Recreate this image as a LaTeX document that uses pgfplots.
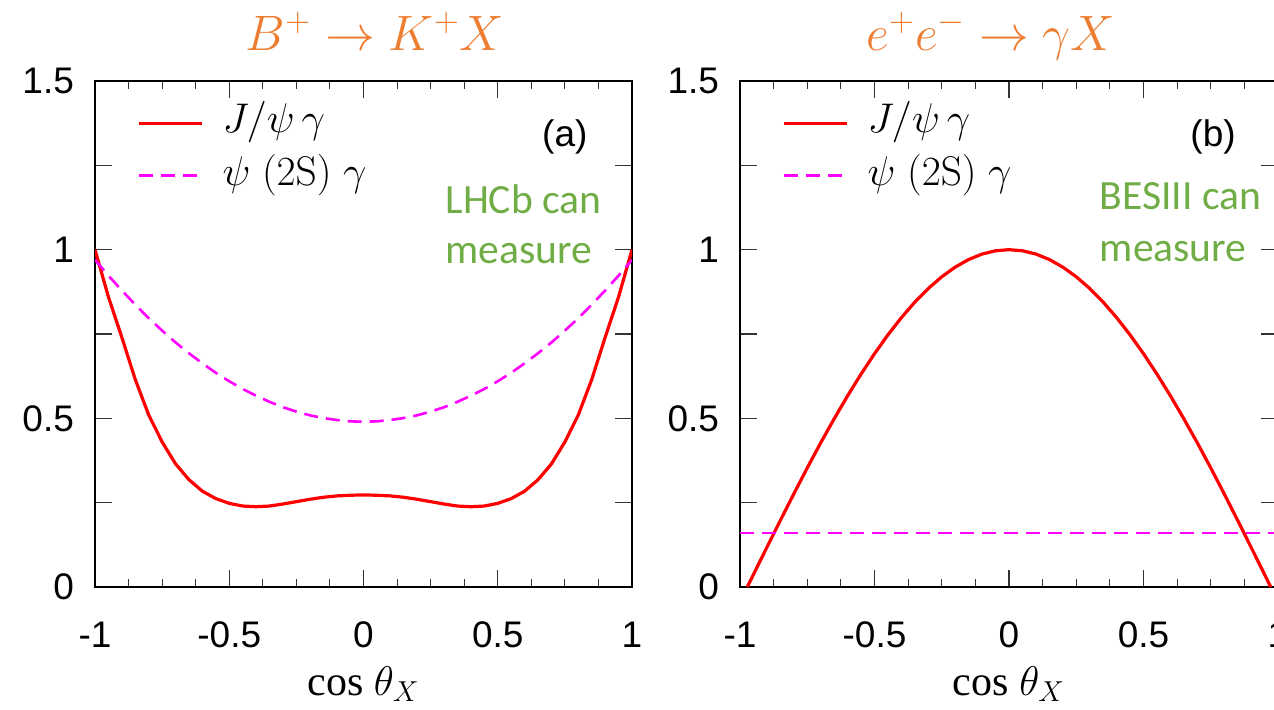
\documentclass[border=0pt]{standalone}
\usepackage[no-math]{fontspec}
\setmainfont{Liberation Sans}
\newfontfamily\carlito{Carlito}
\newfontfamily\tms{Liberation Serif}
\usepackage{pgfplots}
\pgfplotsset{compat=1.18}
\definecolor{ttlorange}{HTML}{ED7D31}
\definecolor{lhcgreen}{HTML}{70AD47}
\definecolor{cmag}{HTML}{FF00FF}
\definecolor{cred}{HTML}{FF0000}
\newcommand\ticksize{\fontsize{18.5}{22}\selectfont}
\newcommand\legsize{\fontsize{19.5}{22}\selectfont}
\newcommand\greensize{\fontsize{20.8}{24}\selectfont}
\newcommand\titlesize{\fontsize{25}{30}\selectfont}
\newcommand\xlabsize{\fontsize{21}{24}\selectfont}

\pgfplotstableread{
x y
-1 1.0
-0.95 0.86
-0.9 0.74
-0.85 0.615
-0.8 0.51
-0.75 0.43
-0.7 0.365
-0.65 0.318
-0.6 0.284
-0.55 0.262
-0.5 0.248
-0.45 0.240
-0.4 0.238
-0.35 0.240
-0.3 0.246
-0.25 0.253
-0.2 0.260
-0.15 0.266
-0.1 0.270
-0.05 0.272
0 0.273
0.05 0.272
0.1 0.270
0.15 0.266
0.2 0.260
0.25 0.253
0.3 0.246
0.35 0.240
0.4 0.238
0.45 0.240
0.5 0.248
0.55 0.262
0.6 0.284
0.65 0.318
0.7 0.365
0.75 0.43
0.8 0.51
0.85 0.615
0.9 0.74
0.95 0.86
1 1.0
}\leftJpsi

\pgfplotstableread{
x y
-1 0.97
-0.95 0.923
-0.9 0.879
-0.85 0.837
-0.8 0.797
-0.75 0.76
-0.7 0.725
-0.65 0.693
-0.6 0.663
-0.55 0.635
-0.5 0.61
-0.45 0.587
-0.4 0.567
-0.35 0.549
-0.3 0.533
-0.25 0.52
-0.2 0.509
-0.15 0.501
-0.1 0.495
-0.05 0.491
0 0.49
0.05 0.491
0.1 0.495
0.15 0.501
0.2 0.509
0.25 0.52
0.3 0.533
0.35 0.549
0.4 0.567
0.45 0.587
0.5 0.61
0.55 0.635
0.6 0.663
0.65 0.693
0.7 0.725
0.75 0.76
0.8 0.797
0.85 0.837
0.9 0.879
0.95 0.923
1 0.97
}\leftPsi

\pgfplotstableread{
x y
-0.973 0
-0.95 0.0372
-0.9 0.1177
-0.85 0.1975
-0.8 0.2761
-0.75 0.3531
-0.7 0.4274
-0.65 0.4986
-0.6 0.5668
-0.55 0.6312
-0.5 0.6916
-0.45 0.7475
-0.4 0.7986
-0.35 0.8446
-0.3 0.885
-0.25 0.9196
-0.2 0.9483
-0.15 0.9708
-0.1 0.987
-0.05 0.9967
0 1.0
0.05 0.9967
0.1 0.987
0.15 0.9708
0.2 0.9483
0.25 0.9196
0.3 0.885
0.35 0.8446
0.4 0.7986
0.45 0.7475
0.5 0.6916
0.55 0.6312
0.6 0.5668
0.65 0.4986
0.7 0.4274
0.75 0.3531
0.8 0.2761
0.85 0.1975
0.9 0.1177
0.95 0.0372
0.973 0
}\rightJpsi

\pgfplotstableread{
x y
-1 0.16
1 0.16
}\rightPsi

\pgfplotsset{
  panel/.style={
    scale only axis, width=268.5pt, height=253pt, anchor=south west,
    xmin=-1, xmax=1, ymin=0, ymax=1.5,
    xtick={-1,-0.5,0,0.5,1}, xticklabels={-1,-0.5,0,0.5,1},
    minor x tick num=3,
    ytick={0,0.25,0.5,0.75,1,1.25,1.5},
    yticklabels={0,,0.5,,1,,1.5},
    tick align=inside, tick pos=both,
    major tick length=8.3pt, minor tick length=4pt,
    axis line style={line width=0.9pt},
    tick style={black!80, line width=0.55pt},
    tick label style={font=\ticksize},
    xticklabel style={yshift=-13.8pt},
    yticklabel style={xshift=-7pt},
    xlabel={cos $\theta_X$},
    xlabel style={at={(axis description cs:0.5,0)}, anchor=base, yshift=-54pt, font=\tms\xlabsize},
    title style={font=\titlesize, text=ttlorange, anchor=base, yshift=9.5pt},
    legend style={draw=none, fill=none, at={(axis cs:-0.845,1.44)}, anchor=north west,
      font=\legsize, row sep=4.7pt, inner sep=0pt, /tikz/column sep=8.5pt,
      nodes={inner sep=1pt, text height=14.5pt, text depth=5pt}},
    legend cell align=left,
    legend image code/.code={\draw[##1] (0pt,0pt) -- (31.7pt,0pt);},
    jline/.style={cred, line width=1.6pt},
    pline/.style={cmag, line width=1.3pt, dash pattern=on 7pt off 4pt},
  }
}

\begin{document}
\begin{tikzpicture}
\begin{axis}[panel, at={(47.5pt,61pt)},
  title={$B^+\to K^+X$}, title style={at={(axis description cs:0.5214,1)}}]
  \addplot[jline] table[x=x,y=y] {\leftJpsi};
  \addlegendentry{$J/\psi\,\gamma$}
  \addplot[pline] table[x=x,y=y] {\leftPsi};
  \addlegendentry{$\psi\;(2\mathrm{S})\;\gamma$}
  \node[anchor=base west, inner sep=0pt, font=\ticksize] at (axis cs:0.664,1.305) {(a)};
  \node[anchor=base west, inner sep=0pt, font=\carlito\greensize, text=lhcgreen] at (axis cs:0.304,1.108) {LHCb can};
  \node[anchor=base west, inner sep=0pt, font=\carlito\greensize, text=lhcgreen] at (axis cs:0.304,0.96) {measure};
\end{axis}
\begin{axis}[panel, at={(370pt,61pt)}, width=269pt,
  title={$e^+e^-\to\gamma X$}, title style={at={(axis description cs:0.4665,1)}}]
  \addplot[jline] table[x=x,y=y] {\rightJpsi};
  \addlegendentry{$J/\psi\,\gamma$}
  \addplot[pline] table[x=x,y=y] {\rightPsi};
  \addlegendentry{$\psi\;(2\mathrm{S})\;\gamma$}
  \node[anchor=base west, inner sep=0pt, font=\ticksize] at (axis cs:0.673,1.305) {(b)};
  \node[anchor=base west, inner sep=0pt, font=\carlito\greensize, text=lhcgreen] at (axis cs:0.336,1.118) {BESIII can};
  \node[anchor=base west, inner sep=0pt, font=\carlito\greensize, text=lhcgreen] at (axis cs:0.336,0.964) {measure};
\end{axis}
\pgfresetboundingbox
\path[use as bounding box] (0pt,0pt) rectangle (637pt,354.5pt);
\end{tikzpicture}
\end{document}
